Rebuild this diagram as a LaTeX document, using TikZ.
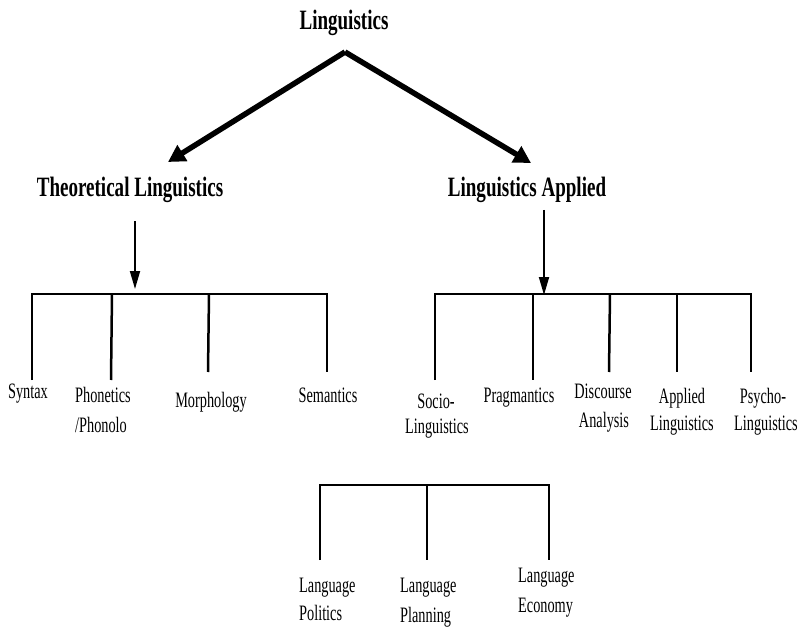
\documentclass[tikz,border=0pt]{standalone}
\usepackage{fontspec}
\setmainfont{Liberation Serif}
\newfontfamily\lblfont{Liberation Serif}[FakeStretch=0.65]
\newfontfamily\hdfont{Liberation Serif}[FakeStretch=0.68]
\usetikzlibrary{arrows.meta}
\begin{document}
\begin{tikzpicture}[x=1bp,y=-1bp,
  lbl/.style={font=\lblfont\fontsize{22bp}{26bp}\selectfont, inner sep=0pt, anchor=base},
  lblL/.style={lbl, anchor=base west},
  headlbl/.style={font=\hdfont\bfseries\fontsize{28bp}{32bp}\selectfont, inner sep=0pt, anchor=base},
  bigarrow/.style={line width=5.5bp, -{Triangle[length=17bp,width=18bp]}},
  thinarrow/.style={line width=1.8bp, -{Triangle[length=18bp,width=10bp]}},
  bracket/.style={line width=2.5bp},
  thinbracket/.style={line width=1.2bp}]
\useasboundingbox (0,0) rectangle (801,630);

% headings
\node[headlbl] (ling) at (344,30) {Linguistics};
\node[headlbl] (theo) at (130,197) {Theoretical Linguistics};
\node[headlbl] (appl) at (527,197) {Linguistics Applied};

% big arrows
\coordinate (apex) at (345,52);
\coordinate (tipL) at (168,162);
\coordinate (tipR) at (531,163);
\draw[bigarrow] (apex) -- (tipL);
\draw[bigarrow] (apex) -- (tipR);

% thin arrows
\coordinate (theoS) at (135,221);
\coordinate (theoT) at (135,289);
\coordinate (applS) at (544,210);
\coordinate (applT) at (544,295);
\draw[thinarrow] (theoS) -- (theoT);
\draw[thinarrow] (applS) -- (applT);

% left bracket
\coordinate (l0) at (32,294);  \coordinate (l0e) at (32,380);
\coordinate (l1) at (112,294); \coordinate (l1e) at (111,380);
\coordinate (l2) at (209,294); \coordinate (l2e) at (208,372);
\coordinate (l3) at (327,294); \coordinate (l3e) at (327,372);
\draw[bracket] (l0e) -- (l0) -- (l3) -- (l3e);
\draw[bracket] (l1) -- (l1e);
\draw[bracket] (l2) -- (l2e);

% right bracket
\coordinate (r0) at (435,294); \coordinate (r0e) at (435,380);
\coordinate (r1) at (533,294); \coordinate (r1e) at (533,380);
\coordinate (r2) at (610,294); \coordinate (r2e) at (609,372);
\coordinate (r3) at (677,294); \coordinate (r3e) at (677,372);
\coordinate (r4) at (751,294); \coordinate (r4e) at (751,372);
\draw[bracket] (r0e) -- (r0) -- (r4) -- (r4e);
\draw[bracket] (r1) -- (r1e);
\draw[bracket] (r2) -- (r2e);
\draw[bracket] (r3) -- (r3e);

% left labels
\node[lbl] (syn) at (28,398) {Syntax};
\node[lblL] (pho1) at (75,402) {Phonetics};
\node[lblL] (pho2) at (75,432) {/Phonolo};
\node[lbl] (mor) at (211,407) {Morphology};
\node[lbl] (sem) at (328,402) {Semantics};

% right labels
\node[lbl] (soc1) at (436,408) {Socio-};
\node[lbl] (soc2) at (437,433) {Linguistics};
\node[lbl] (pra) at (519,402) {Pragmantics};
\node[lbl] (dis1) at (603,398) {Discourse};
\node[lbl] (dis2) at (604,427) {Analysis};
\node[lbl] (apl1) at (682,403) {Applied};
\node[lbl] (apl2) at (682,430) {Linguistics};
\node[lbl] (psy1) at (763,403) {Psycho-};
\node[lbl] (psy2) at (766,430) {Linguistics};

% bottom bracket
\coordinate (b0) at (320,485); \coordinate (b0e) at (320,560);
\coordinate (b1) at (427,485); \coordinate (b1e) at (427,560);
\coordinate (b2) at (549,485); \coordinate (b2e) at (549,560);
\draw[thinbracket] (b0e) -- (b0) -- (b2) -- (b2e);
\draw[thinbracket] (b1) -- (b1e);

% bottom labels
\node[lblL] (lp1) at (299,592) {Language};
\node[lblL] (lp2) at (299,620) {Politics};
\node[lblL] (lpl1) at (400,592) {Language};
\node[lblL] (lpl2) at (400,622) {Planning};
\node[lblL] (le1) at (518,582) {Language};
\node[lblL] (le2) at (518,612) {Economy};
\end{tikzpicture}
\end{document}
